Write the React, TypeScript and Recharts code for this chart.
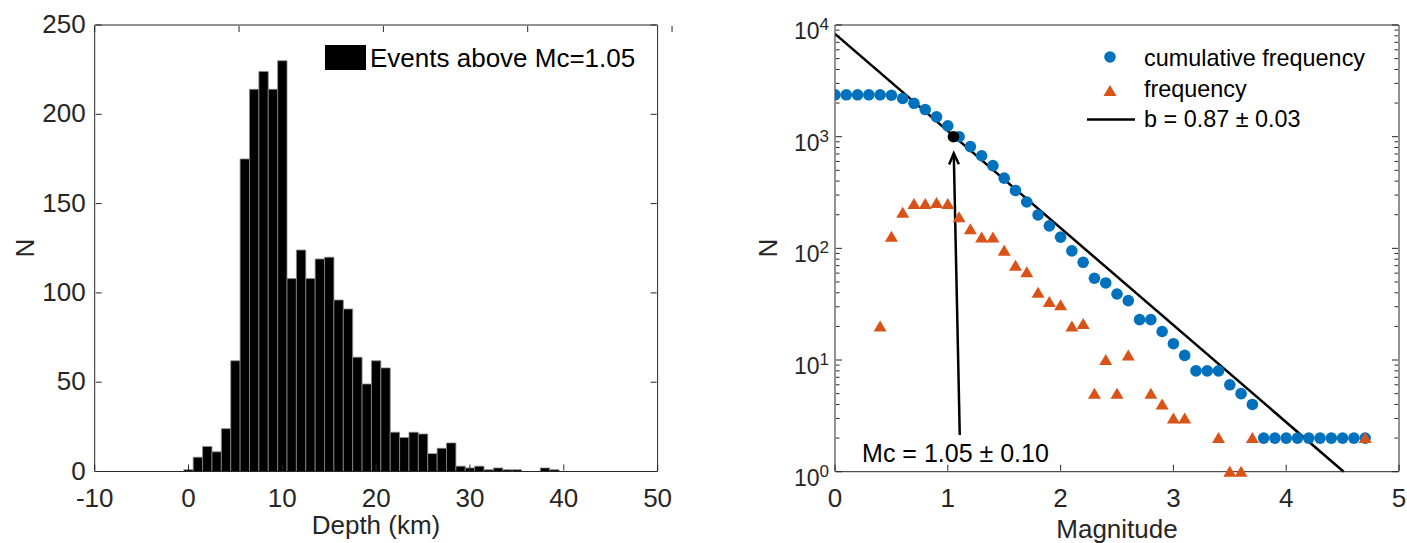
import React from "react";
import { ComposedChart, Bar, XAxis, YAxis, Scatter, Line, ReferenceLine, ReferenceDot } from "recharts";

// depth histogram (1 km bins)
const depthKm = [0, 1, 2, 3, 4, 5, 6, 7, 8, 9, 10, 11, 12, 13, 14, 15, 16, 17, 18, 19, 20, 21, 22, 23, 24, 25, 26, 27, 28, 29, 30, 31, 32, 33, 34, 35, 36, 37, 38, 39];
const eventCounts = [1, 8, 14, 11, 24, 62, 175, 214, 224, 214, 230, 108, 124, 108, 119, 120, 96, 91, 64, 49, 62, 58, 22, 19, 22, 21, 10, 13, 16, 3, 2, 3, 1, 2, 1, 1, 0, 0, 2, 1];

// frequency-magnitude distribution
const magnitudes = [0, 0.1, 0.2, 0.3, 0.4, 0.5, 0.6, 0.7, 0.8, 0.9, 1.0, 1.1, 1.2, 1.3, 1.4, 1.5, 1.6, 1.7, 1.8, 1.9, 2.0, 2.1, 2.2, 2.3, 2.4, 2.5, 2.6, 2.7, 2.8, 2.9, 3.0, 3.1, 3.2, 3.3, 3.4, 3.5, 3.6, 3.7, 3.8, 3.9, 4.0, 4.1, 4.2, 4.3, 4.4, 4.5, 4.6, 4.7];
const cumulativeN = [2370, 2370, 2370, 2370, 2370, 2350, 2200, 1990, 1750, 1505, 1250, 1000, 815, 675, 550, 425, 330, 260, 199, 159, 126, 95, 75, 54, 49, 39, 34, 23, 23, 18, 14, 11, 8, 8, 8, 6, 5, 4, 2, 2, 2, 2, 2, 2, 2, 2, 2, 2];
const freqMagnitudes = [0.4, 0.5, 0.6, 0.7, 0.8, 0.9, 1.0, 1.1, 1.2, 1.3, 1.4, 1.5, 1.6, 1.7, 1.8, 1.9, 2.0, 2.1, 2.2, 2.3, 2.4, 2.5, 2.6, 2.8, 2.9, 3.0, 3.1, 3.4, 3.5, 3.6, 3.7, 4.7];
const freqN = [20, 127, 208, 249, 249, 255, 249, 190, 148, 125, 125, 95, 70, 61, 40, 33, 31, 20, 21, 5, 10, 5, 11, 5, 4, 3, 3, 2, 1, 1, 2, 2];

// G-R fit line end points, Mc marker, arrow, annotation
const fitMagnitudes = [0, 4.51];
const fitN = [8320, 1];
const mcPoint = [{ m: 1.05, n: 1000 }];
const arrowTail = { m: 1.106, n: 2.13 };
const arrowTip = { m: 1.053, n: 708 };
const mcLabelAt = { m: 0.24, n: 1.23 };

// ticks
const depthTicks = [-10, 0, 10, 20, 30, 40, 50];
const countTicks = [0, 50, 100, 150, 200, 250];
const magTicks = [0, 1, 2, 3, 4, 5];
const logTicks = [1, 2, 3, 4, 5, 6, 7, 8, 9, 10, 20, 30, 40, 50, 60, 70, 80, 90, 100, 200, 300, 400, 500, 600, 700, 800, 900, 1000, 2000, 3000, 4000, 5000, 6000, 7000, 8000, 9000, 10000];

const depthData = depthKm.map((d, i) => ({ depth: d, n: eventCounts[i] }));
const cumData = magnitudes.map((m, i) => ({ m, n: cumulativeN[i] }));
const freqData = freqMagnitudes.map((m, i) => ({ m, n: freqN[i] }));
const fitData = fitMagnitudes.map((m, i) => ({ m, n: fitN[i] }));

const AX = "#262626";
const FONT = "'Liberation Sans', Arial, Helvetica, sans-serif";
const BLUE = "#0072BD";
const ORANGE = "#D95319";

// axes have a 1px box; ticks point inward like MATLAB
const BottomTick = (p: any) => (
  <g>
    <line x1={p.x} y1={p.y - 1} x2={p.x} y2={p.y - 7} stroke={AX} />
    <text x={p.x} y={p.y + 35} textAnchor="middle" fontSize={26} fontFamily={FONT} fill={AX}>
      {p.payload.value}
    </text>
  </g>
);
const TopTick = (p: any) => <line x1={p.x} y1={p.y + 1} x2={p.x} y2={p.y + 7} stroke={AX} />;
const LeftTick = (p: any) => (
  <g>
    <line x1={p.x + 1} y1={p.y} x2={p.x + 7} y2={p.y} stroke={AX} />
    <text x={p.x - 9} y={p.y + 8} textAnchor="end" fontSize={26} fontFamily={FONT} fill={AX}>
      {p.payload.value}
    </text>
  </g>
);
const RightTick = (p: any) => <line x1={p.x - 1} y1={p.y} x2={p.x - 7} y2={p.y} stroke={AX} />;

const decade = (v: number) => {
  const l = Math.log10(v);
  return Math.abs(l - Math.round(l)) < 1e-9 ? Math.round(l) : null;
};
const LogLeftTick = (p: any) => {
  const e = decade(p.payload.value);
  return (
    <g>
      <line x1={p.x + 1} y1={p.y} x2={p.x + (e !== null ? 7 : 4.5)} y2={p.y} stroke={AX} />
      {e !== null && (
        <text x={p.x - 6} y={p.y + 14} textAnchor="end" fontSize={23} fontFamily={FONT} fill={AX}>
          <tspan>10</tspan>
          <tspan dy={-9} fontSize={17}>{e}</tspan>
        </text>
      )}
    </g>
  );
};
const LogRightTick = (p: any) => {
  const e = decade(p.payload.value);
  return <line x1={p.x - 1} y1={p.y} x2={p.x - (e !== null ? 7 : 4.5)} y2={p.y} stroke={AX} />;
};

const Dot = (color: string, r: number) => (p: any) => <circle cx={p.cx} cy={p.cy} r={r} fill={color} />;
const Tri = (p: any) => (
  <polygon points={`${p.cx},${p.cy - 6} ${p.cx - 6.5},${p.cy + 5} ${p.cx + 6.5},${p.cy + 5}`} fill={ORANGE} />
);
const Arrow = (p: any) => {
  const { x1, y1, x2, y2 } = p;
  const a = Math.atan2(y2 - y1, x2 - x1);
  const L = 12, w = 0.42;
  const h1 = [x2 - L * Math.cos(a - w), y2 - L * Math.sin(a - w)];
  const h2 = [x2 - L * Math.cos(a + w), y2 - L * Math.sin(a + w)];
  return (
    <g>
      <line x1={x1} y1={y1} x2={x2} y2={y2} stroke="#000" strokeWidth={2.5} />
      <polyline points={`${h1[0]},${h1[1]} ${x2},${y2} ${h2[0]},${h2[1]}`} fill="none" stroke="#000" strokeWidth={2.5} />
    </g>
  );
};
const McText = (p: any) => (
  <text x={p.cx} y={p.cy} fontSize={25} fontFamily={FONT} fill="#000">
    Mc = 1.05 ± 0.10
  </text>
);

export default function App() {
  return (
    <div style={{ position: "relative", width: 1407, height: 543, background: "#fff" }}>
      <style>{`body{margin:0}`}</style>
      <div style={{ position: "absolute", left: 0, top: 0 }}>
        <ComposedChart width={700} height={543} data={depthData} margin={{ top: 24, right: 41.4, bottom: 70.5, left: 93.7 }} barCategoryGap={0} barGap={0}>
          <XAxis type="number" dataKey="depth" domain={[-10, 50]} ticks={depthTicks} interval={0} height={1} tickSize={0} tickMargin={0} tickLine={false} axisLine={{ stroke: AX }} tick={BottomTick} allowDataOverflow />
          <XAxis xAxisId="top" orientation="top" type="number" domain={[-10, 50]} ticks={depthTicks} interval={0} height={1} tickSize={0} tickMargin={0} tickLine={false} axisLine={{ stroke: AX }} tick={TopTick} allowDataOverflow />
          <YAxis type="number" domain={[0, 250]} ticks={countTicks} interval={0} width={1} tickSize={0} tickMargin={0} tickLine={false} axisLine={{ stroke: AX }} tick={LeftTick} allowDataOverflow />
          <YAxis yAxisId="right" orientation="right" type="number" domain={[0, 250]} ticks={countTicks} interval={0} width={1} tickSize={0} tickMargin={0} tickLine={false} axisLine={{ stroke: AX }} tick={RightTick} allowDataOverflow />
          <Bar dataKey="n" fill="#000" stroke="#8a8a8a" strokeWidth={0.8} barSize={9.38} isAnimationActive={false} />
        </ComposedChart>
      </div>
      <div style={{ position: "absolute", left: 700, top: 0 }}>
        <ComposedChart width={707} height={543} margin={{ top: 24, right: 7, bottom: 70.3, left: 134 }}>
          <XAxis type="number" dataKey="m" domain={[0, 5]} ticks={magTicks} interval={0} height={1} tickSize={0} tickMargin={0} tickLine={false} axisLine={{ stroke: AX }} tick={BottomTick} allowDataOverflow />
          <XAxis xAxisId="top" orientation="top" type="number" domain={[0, 5]} ticks={magTicks} interval={0} height={1} tickSize={0} tickMargin={0} tickLine={false} axisLine={{ stroke: AX }} tick={TopTick} allowDataOverflow />
          <YAxis type="number" dataKey="n" scale="log" domain={[1, 10000]} ticks={logTicks} interval={0} width={1} tickSize={0} tickMargin={0} tickLine={false} axisLine={{ stroke: AX }} tick={LogLeftTick} />
          <YAxis yAxisId="right" orientation="right" type="number" scale="log" domain={[1, 10000]} ticks={logTicks} interval={0} width={1} tickSize={0} tickMargin={0} tickLine={false} axisLine={{ stroke: AX }} tick={LogRightTick} allowDataOverflow />
          <Scatter data={cumData} dataKey="n" shape={Dot(BLUE, 5.8)} isAnimationActive={false} />
          <Scatter data={freqData} dataKey="n" shape={Tri} isAnimationActive={false} />
          <Line data={fitData} dataKey="n" stroke="#000" strokeWidth={2.5} dot={false} type="linear" isAnimationActive={false} />
          <Scatter data={mcPoint} dataKey="n" shape={Dot("#000", 5.8)} isAnimationActive={false} />
          <ReferenceLine segment={[{ x: arrowTail.m, y: arrowTail.n }, { x: arrowTip.m, y: arrowTip.n }]} shape={Arrow} />
          <ReferenceDot x={mcLabelAt.m} y={mcLabelAt.n} shape={McText} />
        </ComposedChart>
      </div>
      <svg width={1407} height={543} style={{ position: "absolute", left: 0, top: 0, pointerEvents: "none" }} fontFamily={FONT}>
        <text transform="translate(34,248) rotate(-90)" textAnchor="middle" fontSize={26} fill={AX}>N</text>
        <text x={376} y={534} textAnchor="middle" fontSize={26} fill={AX}>Depth (km)</text>
        <text transform="translate(777,248) rotate(-90)" textAnchor="middle" fontSize={26} fill={AX}>N</text>
        <text x={1117} y={538} textAnchor="middle" fontSize={26} fill={AX}>Magnitude</text>
        {/* left legend */}
        <rect x={325} y={45} width={41} height={25} fill="#000" />
        <text x={370} y={67} fontSize={26} fill="#000">Events above Mc=1.05</text>
        {/* right legend */}
        <circle cx={1110} cy={57} r={5.8} fill={BLUE} />
        <text x={1144} y={65.5} fontSize={23.4} fill="#000">cumulative frequency</text>
        <polygon points="1110,85 1103.5,96 1116.5,96" fill={ORANGE} />
        <text x={1144} y={97} fontSize={23.4} fill="#000">frequency</text>
        <line x1={1087} y1={119.5} x2={1135} y2={119.5} stroke="#000" strokeWidth={2.5} />
        <text x={1144} y={127} fontSize={23.4} fill="#000">b = 0.87 ± 0.03</text>
      </svg>
    </div>
  );
}
